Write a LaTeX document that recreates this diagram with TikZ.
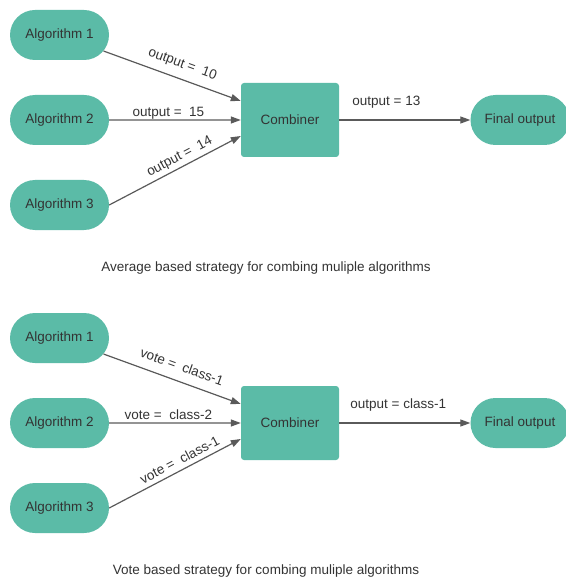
\documentclass[tikz,border=0pt]{standalone}
\usepackage{fontspec}
\setmainfont{Liberation Sans}
\usetikzlibrary{arrows.meta,calc,shapes.misc}

\definecolor{boxfill}{HTML}{5BBBA7}
\definecolor{inktext}{HTML}{333333}
\definecolor{inkline}{HTML}{5A5A5A}

\tikzset{
  algbox/.style={rounded rectangle, fill=boxfill, text=inktext,
    minimum width=99pt, minimum height=50pt, inner sep=0pt},
  combbox/.style={rectangle, rounded corners=3pt, fill=boxfill, text=inktext,
    minimum width=98pt, minimum height=74pt, inner sep=0pt},
  conn/.style={draw=inkline, line width=1.2pt,
    -{Triangle[length=10pt,width=7pt]}},
  lbl/.style={text=inktext, inner sep=0pt, sloped},
  caption/.style={text=inktext, inner sep=0pt}
}

\begin{document}
\begin{tikzpicture}[x=1pt, y=-1pt, font=\fontsize{13.5}{16}\selectfont]
\useasboundingbox (0,0) rectangle (565,585);

% ---------- averaging ----------
\node[algbox] (a1) at (59.5,35) {Algorithm 1};
\node[algbox] (a2) at (59.5,120) {Algorithm 2};
\node[algbox] (a3) at (59.5,205) {Algorithm 3};
\node[combbox] (c1) at (290,120) {Combiner};
\node[algbox] (f1) at (520,120) {Final output};
\coordinate (t1) at ($(c1.west)+(0,-19)$);
\coordinate (t3) at ($(c1.west)+(0,16)$);

\draw[conn] (a1) -- node[lbl, pos=0.54, above=7.5pt] {output = \ 10} (t1);
\draw[conn] (a2) -- node[lbl, pos=0.45, above=0pt] {output = \ 15} (c1);
\draw[conn] (a3.east) -- node[lbl, pos=0.57, above=3pt] {output = \ 14} (t3);
\draw[conn] (c1) -- node[lbl, pos=0.36, above=11pt] {output = 13} (f1);

\node[caption] (cap1) at (266,268) {Average based strategy for combing muliple algorithms};

% ---------- voting ----------
\node[algbox] (b1) at (59.5,338) {Algorithm 1};
\node[algbox] (b2) at (59.5,423) {Algorithm 2};
\node[algbox] (b3) at (59.5,508) {Algorithm 3};
\node[combbox] (c2) at (290,423) {Combiner};
\node[algbox] (f2) at (520,423) {Final output};
\coordinate (u1) at ($(c2.west)+(0,-19)$);
\coordinate (u3) at ($(c2.west)+(0,16)$);

\draw[conn] (b1) -- node[lbl, pos=0.535, above=9.5pt] {vote = \ class-1} (u1);
\draw[conn] (b2) -- node[lbl, pos=0.45, above=2.5pt] {vote = \ class-2} (c2);
\draw[conn] (b3.east) -- node[lbl, pos=0.57, above=4.5pt] {vote = \ class-1} (u3);
\draw[conn] (c2) -- node[lbl, pos=0.45, above=11pt] {output = class-1} (f2);

\node[caption] (cap2) at (266,571) {Vote based strategy for combing muliple algorithms};
\end{tikzpicture}
\end{document}
